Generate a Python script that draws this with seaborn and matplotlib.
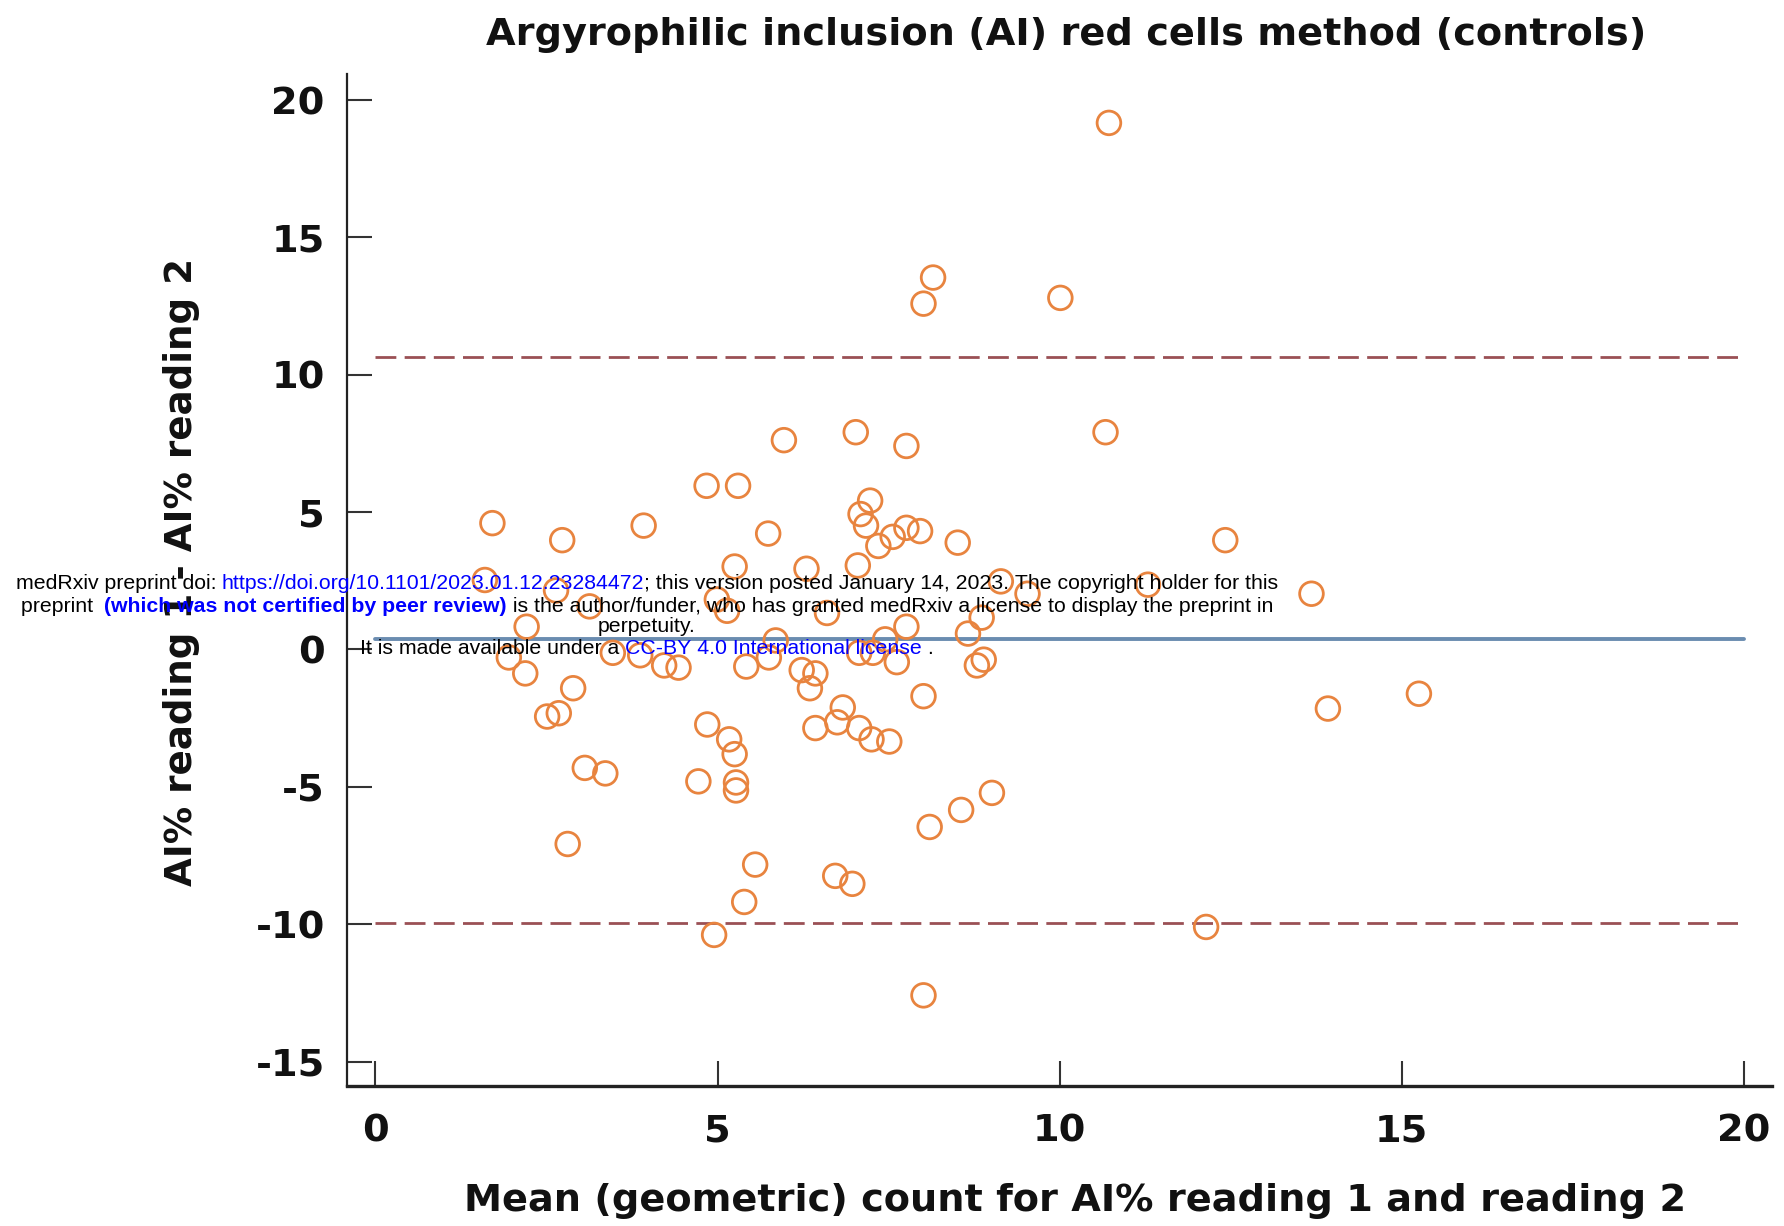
import matplotlib
matplotlib.use("Agg")
import matplotlib.pyplot as plt
import seaborn as sns
import numpy as np
import pandas as pd

# ---------------- data ----------------
mean_vals = [10.72, 8.15, 8.01, 10.01, 7.02, 10.67, 5.97, 7.76, 4.84, 5.30,
             7.23, 1.71, 3.92, 7.09, 7.17, 2.73, 5.74, 7.76, 7.96, 7.56,
             7.35, 8.51, 12.42, 5.25, 6.30, 7.05, 1.60, 9.14, 11.29, 13.68,
             9.53, 2.64, 3.13, 4.99, 5.14, 6.60, 2.21, 7.76, 8.86, 8.66,
             5.85, 7.45, 1.95, 3.47, 3.87, 4.22, 4.43, 2.19, 5.42, 5.75,
             6.23, 6.43, 7.07, 7.27, 7.62, 8.79, 8.89, 2.89, 6.35, 8.01,
             15.25, 13.92, 2.51, 2.68, 4.85, 6.43, 6.75, 6.83, 7.07, 5.17,
             5.25, 7.25, 7.51, 3.06, 3.36, 4.72, 5.27, 5.27, 9.01, 8.56,
             8.10, 2.81, 5.55, 6.72, 6.97, 5.39, 4.95, 12.14, 8.01]
diff_vals = [19.17, 13.54, 12.59, 12.80, 7.91, 7.91, 7.62, 7.41, 5.96, 5.96,
             5.42, 4.60, 4.51, 4.93, 4.51, 3.98, 4.22, 4.43, 4.31, 4.10,
             3.77, 3.89, 3.98, 3.02, 2.94, 3.06, 2.53, 2.48, 2.36, 2.03,
             2.03, 2.15, 1.57, 1.82, 1.41, 1.33, 0.83, 0.83, 1.16, 0.58,
             0.33, 0.37, -0.29, -0.12, -0.21, -0.58, -0.66, -0.87, -0.62, -0.29,
             -0.75, -0.87, -0.12, -0.12, -0.46, -0.58, -0.37, -1.41, -1.41, -1.70,
             -1.61, -2.15, -2.44, -2.32, -2.73, -2.86, -2.65, -2.11, -2.86, -3.27,
             -3.81, -3.27, -3.35, -4.31, -4.51, -4.80, -4.84, -5.13, -5.22, -5.84,
             -6.46, -7.08, -7.83, -8.24, -8.53, -9.19, -10.39, -10.10, -12.59]
mean_diff = 0.37
upper_loa = 10.64
lower_loa = -9.95
x_ticks = [0, 5, 10, 15, 20]
y_ticks = [-15, -10, -5, 0, 5, 10, 15, 20]

title = "Argyrophilic inclusion (AI) red cells method (controls)"
xlabel = "Mean (geometric) count for AI% reading 1 and reading 2"
ylabel = "AI% reading 1 - AI% reading 2"

df = pd.DataFrame({"mean": mean_vals, "diff": diff_vals})

# ---------------- style ----------------
sns.set_theme(style="white")
plt.rcParams["font.family"] = ["Liberation Sans", "DejaVu Sans"]
BOLD_FAMILY = ["DejaVu Sans"]

W, H = 1784, 1226
fig = plt.figure(figsize=(W / 100, H / 100), dpi=100)
ax = fig.add_axes([347 / W, 1 - 1086 / H, (1772 - 347) / W, (1086 - 74) / H])

orange = "#E8843F"
sns.scatterplot(data=df, x="mean", y="diff", ax=ax, marker="o", s=290,
                facecolor="none", edgecolor=orange, linewidth=2.0, zorder=3)

loa_color = "#9A5055"
ax.plot([0, 20], [upper_loa, upper_loa], ls=(0, (7.5, 3.0)), color=loa_color, lw=2.0, zorder=2)
ax.plot([0, 20], [lower_loa, lower_loa], ls=(0, (7.5, 3.0)), color=loa_color, lw=2.0, zorder=2)
ax.plot([0, 20], [mean_diff, mean_diff], ls="-", color="#6A8CB0", lw=2.8, zorder=2)

ax.set_xlim(-0.415, 20.41)
ax.set_ylim(-15.89, 20.95)
ax.set_xticks(x_ticks)
ax.set_yticks(y_ticks)
ax.set_xticklabels([str(t) for t in x_ticks])
ax.set_yticklabels([str(t) for t in y_ticks])

for s in ["top", "right"]:
    ax.spines[s].set_visible(False)
for s in ["left", "bottom"]:
    ax.spines[s].set_color("#222222")
ax.spines["left"].set_linewidth(1.6)
ax.spines["bottom"].set_linewidth(2.4)

ax.tick_params(axis="y", direction="in", length=18, width=1.5, color="#333333",
               labelsize=27.5, pad=16, left=True)
ax.tick_params(axis="x", direction="in", length=18, width=1.5, color="#333333",
               labelsize=27.5, pad=20, bottom=True)
for lab in ax.get_xticklabels() + ax.get_yticklabels():
    lab.set_fontweight("bold")
    lab.set_family(BOLD_FAMILY)
    lab.set_color("#111111")

ax.set_xlabel(xlabel, fontsize=27.5, fontweight="bold", color="#111111", labelpad=24,
              family=BOLD_FAMILY, x=0.511)
ax.set_ylabel(ylabel, fontsize=26.8, fontweight="bold", color="#111111", labelpad=40,
              family=BOLD_FAMILY, y=0.508)
fig.text(1066 / W, 1 - 35 / H, title, fontsize=27.5, fontweight="bold",
         color="#111111", ha="center", va="center", family=BOLD_FAMILY)

# ---------------- medRxiv overlay text ----------------
blue = "#0000FF"
lines = [
    (584, [("medRxiv preprint doi: ", "black", "normal"),
           ("https://doi.org/10.1101/2023.01.12.23284472", blue, "normal"),
           ("; this version posted January 14, 2023. The copyright holder for this", "black", "normal")]),
    (606, [("preprint  ", "black", "normal"),
           ("(which was not certified by peer review)", blue, "bold"),
           (" is the author/funder, who has granted medRxiv a license to display the preprint in", "black", "normal")]),
    (627, [("perpetuity.", "black", "normal")]),
    (649, [("It is made available under a ", "black", "normal"),
           ("CC-BY 4.0 International license", blue, "normal"),
           (" .", "black", "normal")]),
]
center_x = 647
fs = 15.3
renderer = fig.canvas.get_renderer()
for ypix, pieces in lines:
    arts = []
    for txt, col, wt in pieces:
        t = fig.text(0, 1 - ypix / H, txt.replace(" ", "\u00a0"), fontsize=fs, color=col,
                     fontweight=wt, ha="left", va="center", zorder=10)
        arts.append(t)
    widths = [t.get_window_extent(renderer).width for t in arts]
    total = sum(widths)
    x = center_x - total / 2
    for t, w in zip(arts, widths):
        t.set_x(x / W)
        x += w

fig.savefig("out.png", dpi=100)
